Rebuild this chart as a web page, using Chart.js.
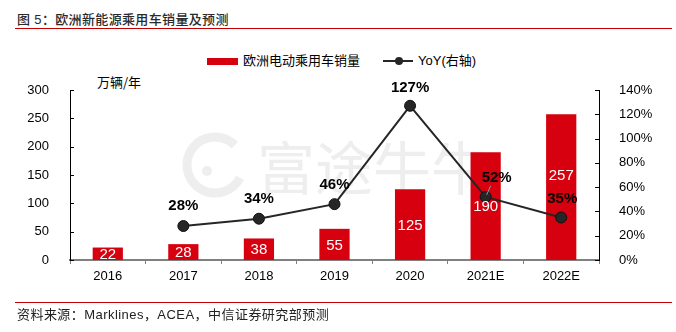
<!DOCTYPE html>
<html>
<head>
<meta charset="utf-8">
<script src="https://cdn.jsdelivr.net/npm/chart.js@4.4.1/dist/chart.umd.min.js"></script>
<style>
    html, body { margin: 0; padding: 0; background: #fff; }
    body { width: 676px; height: 332px; position: relative; overflow: hidden;
        font-family: "Liberation Sans", "Noto Sans CJK SC", sans-serif; color: #000; }
    #title { position: absolute; left: 17px; top: 11px; font-size: 13px; line-height: 17px; color: #2a2a2a; font-weight: 500;
        letter-spacing: 0.35px; font-family: "Liberation Sans", "Noto Sans CJK SC", sans-serif; white-space: pre; }
    #title-rule { position: absolute; left: 15px; top: 28px; width: 657px; height: 1px; background: #c00000; }
    #source-rule { position: absolute; left: 15px; top: 302px; width: 657px; height: 1px; background: #c00000; }
    #source { position: absolute; left: 17px; top: 306px; font-size: 13px; line-height: 17px; color: #222;
        letter-spacing: 0.45px; white-space: nowrap; }
    #legend { position: absolute; top: 53px; left: 207px; height: 16px; font-size: 13px; white-space: nowrap; }
    #legend .item { position: absolute; top: 0; line-height: 16px; }
    #legend .bar { position: absolute; top: 5px; width: 31px; height: 7px; background: #d7000f; }
    #legend .line { position: absolute; top: 7px; width: 30px; height: 2px; background: #262626; }
    #legend .dot { position: absolute; top: 4px; width: 8px; height: 8px; border-radius: 50%; background: #262626; }
    #unit { position: absolute; left: 97px; top: 72px; font-size: 13px; font-family: "Noto Sans CJK SC", sans-serif; }
    #chart { position: absolute; left: 0; top: 0; }
</style>
</head>
<body>
<div id="title">图 5：欧洲新能源乘用车销量及预测</div>
<div id="title-rule"></div>
<div id="legend">
    <span class="bar" style="left:0"></span>
    <span class="item" style="left:36px">欧洲电动乘用车销量</span>
    <span class="line" style="left:176px"></span>
    <span class="dot" style="left:188px"></span>
    <span class="item" style="left:211px">YoY(右轴)</span>
</div>
<div id="unit">万辆/年</div>
<canvas id="chart" width="676" height="332"></canvas>
<div id="source-rule"></div>
<div id="source">资料来源：Marklines，ACEA，中信证券研究部预测</div>

<script>
    const years = ['2016', '2017', '2018', '2019', '2020', '2021E', '2022E'];
    const sales = [22, 28, 38, 55, 125, 190, 257];
    const yoy = [null, 28, 34, 46, 127, 52, 35];
    const salesTicks = [0, 50, 100, 150, 200, 250, 300];
    const yoyTicks = [0, 20, 40, 60, 80, 100, 120, 140];

    // label nudges (px), kept apart from the values
    const salesLabelShift = [0, 0, 0, 0, 0, 0, -12];
    const yoyLabelShift = [null, [0, -20], [0, -20], [0, -19], [0, -18], [11, -19], [1, -19]];
    const yoyLeader = [false, false, false, false, false, true, false];

    const RED = '#d7000f',
        LINE = '#262626',
        FONT = '"Liberation Sans", "Noto Sans CJK SC", sans-serif';

    const watermark = {
        id: 'watermark',
        beforeDatasetsDraw(chart) {
            const {ctx, chartArea} = chart;
            const cx = chartArea.left + 145, cy = chartArea.top + 75;
            ctx.save();
            ctx.strokeStyle = '#eeeeee';
            ctx.fillStyle = '#eeeeee';
            ctx.lineWidth = 9;
            ctx.beginPath();
            ctx.arc(cx, cy, 28, Math.PI * 0.15, Math.PI * 1.75);
            ctx.stroke();
            ctx.beginPath();
            ctx.arc(cx - 8, cy + 6, 5, 0, Math.PI * 2);
            ctx.fill();
            ctx.font = '58px "Noto Sans CJK SC", sans-serif';
            ctx.textBaseline = 'middle';
            ctx.fillText('富途牛牛', cx + 42, cy + 3);
            ctx.restore();
        }
    };

    // y axes carry small inward ticks
    const innerTicks = {
        id: 'innerTicks',
        afterDraw(chart) {
            const {ctx} = chart;
            const left = chart.scales.y, right = chart.scales.y1;
            ctx.save();
            ctx.strokeStyle = '#000';
            ctx.lineWidth = 1;
            ctx.beginPath();
            left.ticks.forEach(t => {
                const py = Math.round(left.getPixelForValue(t.value)) + 0.5;
                ctx.moveTo(left.right, py);
                ctx.lineTo(left.right + 4, py);
            });
            right.ticks.forEach(t => {
                const py = Math.round(right.getPixelForValue(t.value)) + 0.5;
                ctx.moveTo(right.left, py);
                ctx.lineTo(right.left - 4, py);
            });
            ctx.stroke();
            ctx.restore();
        }
    };

    const valueLabels = {
        id: 'valueLabels',
        afterDatasetsDraw(chart) {
            const {ctx} = chart;
            const bars = chart.getDatasetMeta(0).data,
                points = chart.getDatasetMeta(1).data;
            ctx.save();
            ctx.textAlign = 'center';
            ctx.textBaseline = 'middle';

            ctx.font = '15px ' + FONT;
            ctx.fillStyle = '#fff';
            bars.forEach((bar, i) => {
                const mid = (bar.y + bar.base) / 2;
                ctx.fillText(String(sales[i]), bar.x, mid + 1 + salesLabelShift[i]);
            });

            ctx.font = 'bold 15px ' + FONT;
            points.forEach((pt, i) => {
                if (yoy[i] === null) return;
                const [dx, dy] = yoyLabelShift[i];
                const lx = pt.x + dx, ly = pt.y + dy;
                if (yoyLeader[i]) {
                    ctx.strokeStyle = '#9a9a9a';
                    ctx.lineWidth = 1;
                    ctx.beginPath();
                    ctx.moveTo(lx - 6, ly + 8);
                    ctx.lineTo(pt.x + 1, pt.y - 2);
                    ctx.stroke();
                }
                ctx.fillStyle = '#000';
                ctx.fillText(yoy[i] + '%', lx, ly);
            });
            ctx.restore();
        }
    };

    new Chart(document.getElementById('chart'), {
        data: {
            labels: years,
            datasets: [
                {
                    type: 'bar',
                    label: '欧洲电动乘用车销量',
                    data: sales,
                    backgroundColor: RED,
                    borderWidth: 0,
                    categoryPercentage: 1,
                    barPercentage: 0.4,
                    yAxisID: 'y',
                    order: 1
                },
                {
                    type: 'line',
                    label: 'YoY(右轴)',
                    data: yoy,
                    borderColor: LINE,
                    borderWidth: 2,
                    pointRadius: 5.5,
                    pointBackgroundColor: LINE,
                    pointBorderColor: '#111',
                    pointBorderWidth: 1,
                    tension: 0,
                    yAxisID: 'y1',
                    order: 0
                }
            ]
        },
        options: {
            responsive: false,
            animation: false,
            events: [],
            layout: {padding: {top: 90, bottom: 42, left: 0, right: 0}},
            plugins: {
                legend: {display: false},
                tooltip: {enabled: false}
            },
            scales: {
                x: {
                    grid: {display: true, drawOnChartArea: false, offset: true, tickLength: 4, color: '#808080'},
                    border: {color: '#808080', width: 2},
                    ticks: {color: '#000', font: {family: FONT, size: 13}, padding: 5, maxRotation: 0},
                    afterFit: s => { s.height = 30; }
                },
                y: {
                    position: 'left',
                    min: 0,
                    max: 300,
                    afterBuildTicks: s => { s.ticks = salesTicks.map(v => ({value: v})); },
                    grid: {display: false},
                    border: {color: '#000', width: 1},
                    ticks: {color: '#000', font: {family: FONT, size: 13}, padding: 13},
                    afterFit: s => { s.width = 70; }
                },
                y1: {
                    position: 'right',
                    min: 0,
                    max: 140,
                    afterBuildTicks: s => { s.ticks = yoyTicks.map(v => ({value: v})); },
                    grid: {display: false},
                    border: {color: '#000', width: 1},
                    ticks: {color: '#000', font: {family: FONT, size: 13}, padding: 12, callback: v => v + '%'},
                    afterFit: s => { s.width = 77; }
                }
            }
        },
        plugins: [watermark, innerTicks, valueLabels]
    });
</script>
</body>
</html>
